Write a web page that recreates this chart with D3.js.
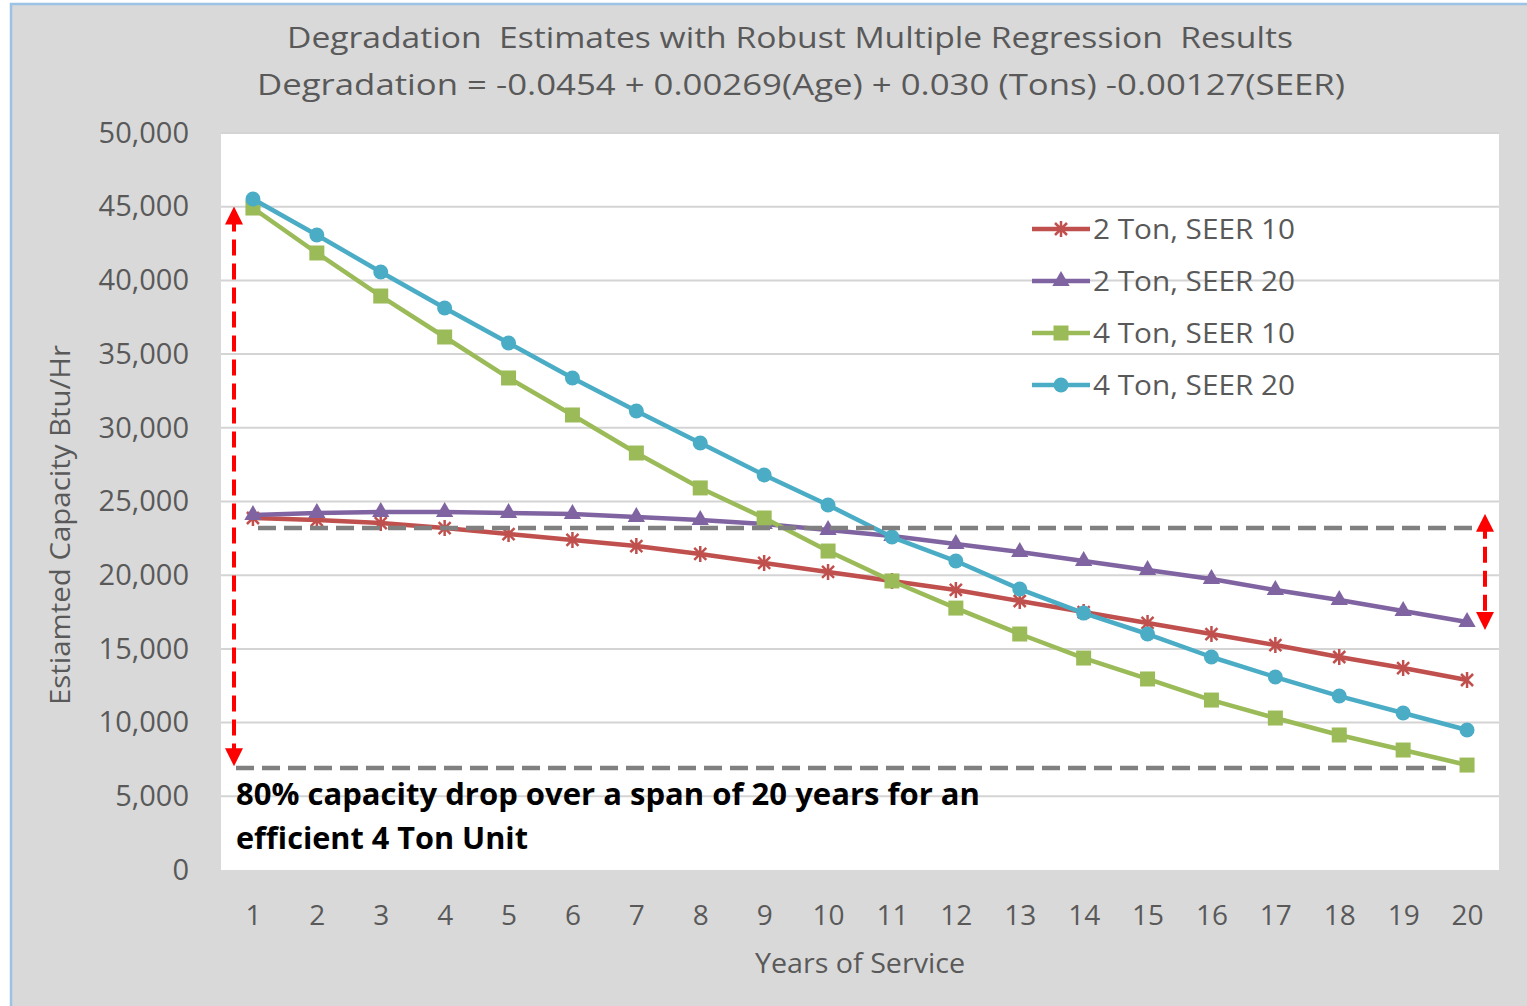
<!DOCTYPE html>
<html>
<head>
<meta charset="utf-8">
<script src="https://cdn.jsdelivr.net/npm/d3@7"></script>
<style>
  body { margin: 0; background: #fff; }
  svg text { font-family: "Open Sans", "Noto Sans", sans-serif; white-space: pre; }
</style>
</head>
<body>
<script>
const years = d3.range(1, 21)
const yTicks = d3.range(0, 50001, 5000)

const ton2seer10 = [23880, 23740, 23540, 23200, 22790, 22390, 21980, 21440, 20830, 20220,
                    19610, 19000, 18250, 17500, 16760, 16010, 15260, 14450, 13700, 12890]
const ton2seer20 = [24080, 24220, 24290, 24290, 24220, 24150, 23950, 23740, 23470, 23070,
                    22660, 22120, 21570, 20960, 20350, 19740, 18990, 18320, 17570, 16820]
const ton4seer10 = [44910, 41860, 38940, 36160, 33380, 30870, 28290, 25920, 23880, 21640,
                    19610, 17770, 16010, 14380, 12960, 11530, 10310, 9160, 8140, 7120]
const ton4seer20 = [45520, 43080, 40570, 38130, 35750, 33380, 31140, 28970, 26800, 24760,
                    22590, 20960, 19060, 17430, 16010, 14450, 13090, 11800, 10650, 9500]

const seriesNames = ["2 Ton, SEER 10", "2 Ton, SEER 20", "4 Ton, SEER 10", "4 Ton, SEER 20"]
const seriesValues = [ton2seer10, ton2seer20, ton4seer10, ton4seer20]
const colors = ["#c0504d", "#8064a2", "#9bbb59", "#4bacc6"]
const shapes = ["star", "triangle", "square", "circle"]

// annotation levels (capacity values)
const hiLevel = 23200
const loLevel = 6920

const w = 1527, h = 1006
const plotL = 221, plotR = 1499, plotT = 133, plotB = 870

const svg = d3.select("body").append("svg")
              .attr("width", w)
              .attr("height", h)

// outer frame
svg.append("rect").attr("x", 0).attr("y", 0).attr("width", w).attr("height", h).attr("fill", "#fff")
svg.append("rect")
   .attr("x", 11).attr("y", 4).attr("width", w - 9).attr("height", h - 2)
   .attr("fill", "#d9d9d9")
   .attr("stroke", "#9cc3e6").attr("stroke-width", 2.5)

svg.append("rect")
   .attr("x", plotL).attr("y", plotT)
   .attr("width", plotR - plotL).attr("height", plotB - plotT)
   .attr("fill", "#fff")

const x = d3.scalePoint().domain(years).range([plotL, plotR]).padding(0.5)
const y = d3.scaleLinear().domain([0, 50000]).range([plotB, plotT])

// gridlines
svg.append("g")
   .selectAll("line")
   .data(yTicks.filter(d => d > 0))
   .enter()
   .append("line")
   .attr("x1", plotL).attr("x2", plotR)
   .attr("y1", d => y(d)).attr("y2", d => y(d))
   .attr("stroke", "#d4d4d4")
   .attr("stroke-width", 2)

const yAxis = d3.axisLeft(y).tickValues(yTicks).tickFormat(d3.format(",")).tickSize(0).tickPadding(32)
const gy = svg.append("g").attr("transform", "translate(" + plotL + ",0)").call(yAxis)
gy.select(".domain").remove()
gy.selectAll("text").attr("fill", "#595959").style("font-size", "29px")

const xAxis = d3.axisBottom(x).tickSize(0).tickPadding(35)
const gx = svg.append("g").attr("transform", "translate(0," + plotB + ")").call(xAxis)
gx.select(".domain").remove()
gx.selectAll("text").attr("fill", "#595959").style("font-size", "28px")

// titles
function label(txt, xp, yp, size, len) {
  return svg.append("text")
            .text(txt)
            .attr("x", xp).attr("y", yp)
            .attr("text-anchor", "middle")
            .attr("fill", "#595959")
            .attr("textLength", len)
            .attr("lengthAdjust", "spacingAndGlyphs")
            .style("font-size", size + "px")
}
label("Degradation  Estimates with Robust Multiple Regression  Results", 790, 48, 30, 1006)
label("Degradation = -0.0454 + 0.00269(Age) + 0.030 (Tons) -0.00127(SEER)", 801, 95, 30, 1088)
label("Years of Service", 860, 973, 27, 210)
label("Estiamted Capacity Btu/Hr", 0, 0, 27, 360)
   .attr("transform", "translate(70,525) rotate(-90)")

// markers
function drawMarker(g, shape, color, cx, cy) {
  if (shape === "circle") {
    g.append("circle").attr("cx", cx).attr("cy", cy).attr("r", 7.5).attr("fill", color)
  } else if (shape === "square") {
    g.append("rect").attr("x", cx - 7.5).attr("y", cy - 7.5).attr("width", 15).attr("height", 15).attr("fill", color)
  } else if (shape === "triangle") {
    g.append("path").attr("d", d3.symbol(d3.symbolTriangle, 130)()).attr("transform", "translate(" + cx + "," + cy + ")").attr("fill", color)
  } else {
    g.append("path")
     .attr("d", "M-6,-6L6,6M-6,6L6,-6M0,-8L0,8")
     .attr("transform", "translate(" + cx + "," + cy + ")")
     .attr("stroke", color).attr("stroke-width", 2.5).attr("fill", "none")
  }
}

const line = d3.line().x((d, i) => x(years[i])).y(d => y(d))

seriesValues.forEach((vals, k) => {
  const g = svg.append("g").attr("class", "series")
  g.append("path")
   .datum(vals)
   .attr("d", line)
   .attr("fill", "none")
   .attr("stroke", colors[k])
   .attr("stroke-width", 4.5)
   .attr("stroke-linejoin", "round")
  vals.forEach((v, i) => drawMarker(g, shapes[k], colors[k], x(years[i]), y(v)))
})

// legend
const legend = svg.append("g").attr("id", "legend")
seriesNames.forEach((name, k) => {
  const ly = 229 + k * 52
  legend.append("line")
        .attr("x1", 1032).attr("x2", 1090)
        .attr("y1", ly).attr("y2", ly)
        .attr("stroke", colors[k]).attr("stroke-width", 4.5)
  drawMarker(legend, shapes[k], colors[k], 1061, ly)
  legend.append("text")
        .text(name)
        .attr("x", 1093).attr("y", ly + 10)
        .attr("fill", "#595959")
        .attr("textLength", 202)
        .attr("lengthAdjust", "spacingAndGlyphs")
        .style("font-size", "28px")
})

// annotations
const ann = svg.append("g").attr("id", "annotations")
ann.append("line")
   .attr("x1", 258).attr("x2", 1482)
   .attr("y1", y(hiLevel)).attr("y2", y(hiLevel))
   .attr("stroke", "#808080").attr("stroke-width", 4.5)
   .attr("stroke-dasharray", "18,8")
ann.append("line")
   .attr("x1", 236).attr("x2", 1446)
   .attr("y1", y(loLevel)).attr("y2", y(loLevel))
   .attr("stroke", "#808080").attr("stroke-width", 4.5)
   .attr("stroke-dasharray", "18,8")

svg.append("defs").append("marker")
   .attr("id", "arrow")
   .attr("viewBox", "0 0 10 10")
   .attr("refX", 5).attr("refY", 5)
   .attr("markerWidth", 4.5).attr("markerHeight", 4.5)
   .attr("orient", "auto-start-reverse")
   .append("path").attr("d", "M0,0L10,5L0,10Z").attr("fill", "#ff0000")

function arrow(xp, y1, y2) {
  ann.append("line")
     .attr("x1", xp).attr("x2", xp)
     .attr("y1", y1).attr("y2", y2)
     .attr("stroke", "#ff0000").attr("stroke-width", 4)
     .attr("stroke-dasharray", "16,8")
     .attr("marker-start", "url(#arrow)")
     .attr("marker-end", "url(#arrow)")
}
arrow(234, y(44400), y(7650))
arrow(1485, y(23550), y(16900))

ann.append("text")
   .attr("x", 236).attr("y", 805)
   .style("font-size", "30px").style("font-weight", "bold")
   .attr("fill", "#000")
   .attr("textLength", 744)
   .attr("lengthAdjust", "spacingAndGlyphs")
   .text("80% capacity drop over a span of 20 years for an")
ann.append("text")
   .attr("x", 236).attr("y", 849)
   .style("font-size", "30px").style("font-weight", "bold")
   .attr("fill", "#000")
   .attr("textLength", 292)
   .attr("lengthAdjust", "spacingAndGlyphs")
   .text("efficient 4 Ton Unit")
</script>
</body>
</html>
